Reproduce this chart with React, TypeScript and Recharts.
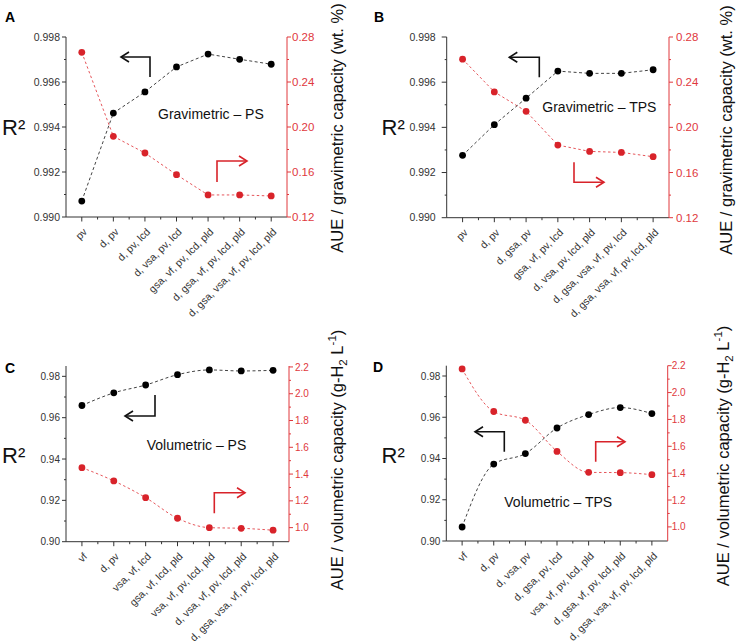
import React from 'react';
import { LineChart, Line, XAxis, YAxis } from 'recharts';

// ---------- data ----------
const catsA = ['pv', 'd, pv', 'd, pv, lcd', 'd, vsa, pv, lcd', 'gsa, vf, pv, lcd, pld', 'd, gsa, vf, pv, lcd, pld', 'd, gsa, vsa, vf, pv, lcd, pld'];
const r2A = [0.99071, 0.99462, 0.99556, 0.99667, 0.99724, 0.99701, 0.99679];
const aueA = [0.2664, 0.1917, 0.1769, 0.1576, 0.1396, 0.1396, 0.1387];

const catsB = ['pv', 'd, pv', 'd, gsa, pv', 'gsa, vf, pv, lcd', 'd, vsa, pv, lcd, pld', 'd, gsa, vsa, vf, pv, lcd', 'd, gsa, vsa, vf, pv, lcd, pld'];
const r2B = [0.99276, 0.99412, 0.99529, 0.99649, 0.99639, 0.99639, 0.99655];
const aueB = [0.2604, 0.2314, 0.2142, 0.1843, 0.1787, 0.1778, 0.174];

const catsC = ['vf', 'd, pv', 'vsa, vf, lcd', 'gsa, vf, lcd, pld', 'vsa, vf, pv, lcd, pld', 'd, vsa, vf, pv, lcd, pld', 'd, gsa, vsa, vf, pv, lcd, pld'];
const r2C = [0.9659, 0.972, 0.9758, 0.9808, 0.9831, 0.9826, 0.9829];
const aueC = [1.448, 1.349, 1.224, 1.07, 1.0, 0.995, 0.981];

const catsD = ['vf', 'd, pv', 'd, vsa, pv', 'd, gsa, pv, lcd', 'vsa, vf, pv, lcd, pld', 'd, gsa, vf, pv, lcd, pld', 'd, gsa, vsa, vf, pv, lcd, pld'];
const r2D = [0.9068, 0.9373, 0.9424, 0.9548, 0.9613, 0.9647, 0.9618];
const aueD = [2.176, 1.859, 1.794, 1.562, 1.406, 1.404, 1.389];

// tick values
const xTicks = [0, 0.5, 1, 1.5, 2, 2.5, 3, 3.5, 4, 4.5, 5, 5.5, 6];
const leftTicksGrav = [0.99, 0.991, 0.992, 0.993, 0.994, 0.995, 0.996, 0.997, 0.998];
const rightTicksGrav = [0.12, 0.14, 0.16, 0.18, 0.2, 0.22, 0.24, 0.26, 0.28];
const leftTicksVol = [0.9, 0.91, 0.92, 0.93, 0.94, 0.95, 0.96, 0.97, 0.98];
const rightTicksVol = [1.0, 1.1, 1.2, 1.3, 1.4, 1.5, 1.6, 1.7, 1.8, 1.9, 2.0, 2.1, 2.2];

// ---------- styles ----------
const FONT = '"Liberation Sans", Arial, Helvetica, sans-serif';
const AXIS = '#333333';
const RED = '#d8232a';
const RED_AXIS = '#e0383d';
const RED_LINE = '#e6565b';

type Cfg = {
  left: number; top: number; width: number; height: number;
  margin: { top: number; right: number; bottom: number; left: number };
  cats: string[]; r2: number[]; aue: number[];
  lDomain: [number, number]; lTicks: number[]; lDec: number; lFont: number; lGap: number; lTick: number;
  rDomain: [number, number]; rTicks: number[]; rDec: number; rFont: number; rGap: number;
  curve: 'linear' | 'monotone';
};

const panels: Cfg[] = [
  {
    left: 0, top: 0, width: 368, height: 320,
    margin: { top: 37, right: 31, bottom: 3, left: 16 },
    cats: catsA, r2: r2A, aue: aueA,
    lDomain: [0.99, 0.998], lTicks: leftTicksGrav, lDec: 3, lFont: 10.5, lGap: 6, lTick: 4,
    rDomain: [0.12, 0.28], rTicks: rightTicksGrav, rDec: 2, rFont: 11.5, rGap: 5,
    curve: 'linear',
  },
  {
    left: 368, top: 0, width: 368, height: 320,
    margin: { top: 37, right: 17, bottom: 2.3, left: 28.7 },
    cats: catsB, r2: r2B, aue: aueB,
    lDomain: [0.99, 0.998], lTicks: leftTicksGrav, lDec: 3, lFont: 10.5, lGap: 11, lTick: 5,
    rDomain: [0.12, 0.28], rTicks: rightTicksGrav, rDec: 2, rFont: 11.5, rGap: 7,
    curve: 'linear',
  },
  {
    left: 0, top: 320, width: 368, height: 323,
    margin: { top: 46, right: 29, bottom: 1.3, left: 16 },
    cats: catsC, r2: r2C, aue: aueC,
    lDomain: [0.9, 0.985], lTicks: leftTicksVol, lDec: 2, lFont: 10, lGap: 6, lTick: 4,
    rDomain: [0.895, 2.207], rTicks: rightTicksVol, rDec: 1, rFont: 10, rGap: 6,
    curve: 'monotone',
  },
  {
    left: 368, top: 320, width: 368, height: 323,
    margin: { top: 45.7, right: 18.3, bottom: 2, left: 28.3 },
    cats: catsD, r2: r2D, aue: aueD,
    lDomain: [0.9, 0.985], lTicks: leftTicksVol, lDec: 2, lFont: 10, lGap: 6, lTick: 4,
    rDomain: [0.895, 2.2], rTicks: rightTicksVol, rDec: 1, rFont: 10, rGap: 4,
    curve: 'monotone',
  },
];

// ---------- ticks ----------
function BottomTick(props: any) {
  const { x, y, payload, cats } = props;
  const v = payload.value;
  const major = Number.isInteger(v);
  const lx = x + 6;
  const ly = y + 15.5;
  return (
    <g>
      <line x1={x} y1={y} x2={x} y2={y + (major ? 4.5 : 2.5)} stroke={AXIS} strokeWidth={1} />
      {major && (
        <text x={lx} y={ly} textAnchor="end" fontSize={10.5} fill="#333" fontFamily={FONT}
          transform={`rotate(-45 ${lx} ${ly})`}>
          {cats[v]}
        </text>
      )}
    </g>
  );
}

function TopTick(props: any) {
  const { x, y } = props;
  return <line x1={x} y1={y} x2={x} y2={y + 3} stroke={AXIS} strokeWidth={1} />;
}

function LeftTick(props: any) {
  const { x, y, payload, index, dec, font, gap, len } = props;
  const major = index % 2 === 0;
  return (
    <g>
      <line x1={x} y1={y} x2={x - (major ? len : 2)} y2={y} stroke={AXIS} strokeWidth={1} />
      {major && (
        <text x={x - gap} y={y} dy="0.36em" textAnchor="end" fontSize={font} fill="#333" fontFamily={FONT}>
          {Number(payload.value).toFixed(dec)}
        </text>
      )}
    </g>
  );
}

function RightTick(props: any) {
  const { x, y, payload, index, dec, font, gap } = props;
  const major = index % 2 === 0;
  return (
    <g>
      <line x1={x} y1={y} x2={x + (major ? 4 : 2)} y2={y} stroke={RED_AXIS} strokeWidth={1} />
      {major && (
        <text x={x + gap} y={y} dy="0.36em" textAnchor="start" fontSize={font} fill={RED_AXIS} fontFamily={FONT}>
          {Number(payload.value).toFixed(dec)}
        </text>
      )}
    </g>
  );
}

function Panel({ cfg }: { cfg: Cfg }) {
  const data = cfg.cats.map((c, i) => ({ idx: i, cat: c, r2: cfg.r2[i], aue: cfg.aue[i] }));
  return (
    <div style={{ position: 'absolute', left: cfg.left, top: cfg.top }}>
      <LineChart width={cfg.width} height={cfg.height} data={data} margin={cfg.margin}>
        <XAxis xAxisId="b" dataKey="idx" type="number" domain={[-0.5, 6.5]} ticks={xTicks} interval={0}
          height={100} tickSize={0} tickMargin={0} tickLine={false} axisLine={{ stroke: AXIS }}
          tick={(p: any) => <BottomTick {...p} cats={cfg.cats} />} />
        <XAxis xAxisId="t" orientation="top" dataKey="idx" type="number" domain={[-0.5, 6.5]} ticks={xTicks}
          interval={0} height={0} tickSize={0} tickMargin={0} tickLine={false} axisLine={{ stroke: AXIS }}
          tick={(p: any) => <TopTick {...p} />} />
        <YAxis yAxisId="l" orientation="left" type="number" domain={cfg.lDomain} ticks={cfg.lTicks} interval={0}
          width={50} tickSize={0} tickMargin={0} tickLine={false} axisLine={{ stroke: AXIS }}
          tick={(p: any) => <LeftTick {...p} dec={cfg.lDec} font={cfg.lFont} gap={cfg.lGap} len={cfg.lTick} />} />
        <YAxis yAxisId="r" orientation="right" type="number" domain={cfg.rDomain} ticks={cfg.rTicks} interval={0}
          width={50} tickSize={0} tickMargin={0} tickLine={false} axisLine={{ stroke: RED_AXIS }}
          tick={(p: any) => <RightTick {...p} dec={cfg.rDec} font={cfg.rFont} gap={cfg.rGap} />} />
        <Line xAxisId="b" yAxisId="r" dataKey="aue" type={cfg.curve} stroke={RED_LINE} strokeWidth={1}
          strokeDasharray="2.5 2.5" dot={{ r: 3.4, fill: RED, stroke: RED, strokeWidth: 0 }} activeDot={false}
          isAnimationActive={false} />
        <Line xAxisId="b" yAxisId="l" dataKey="r2" type={cfg.curve} stroke="#444" strokeWidth={1}
          strokeDasharray="3 2.5" dot={{ r: 3.4, fill: '#000', stroke: '#000', strokeWidth: 0 }} activeDot={false}
          isAnimationActive={false} />
      </LineChart>
    </div>
  );
}

// ---------- annotations ----------
function ArrowLeft({ d, tipX, tipY, color }: { d: string; tipX: number; tipY: number; color: string }) {
  return (
    <g fill="none" stroke={color} strokeWidth={1.6}>
      <path d={d} />
      <path d={`M${tipX + 8},${tipY - 5} L${tipX},${tipY} L${tipX + 8},${tipY + 5}`} />
    </g>
  );
}
function ArrowRight({ d, tipX, tipY, color }: { d: string; tipX: number; tipY: number; color: string }) {
  return (
    <g fill="none" stroke={color} strokeWidth={1.6}>
      <path d={d} />
      <path d={`M${tipX - 8},${tipY - 5} L${tipX},${tipY} L${tipX - 8},${tipY + 5}`} />
    </g>
  );
}

function RightTitleGrav({ x, y }: { x: number; y: number }) {
  return (
    <text x={x} y={y} textAnchor="middle" fontSize={16.5} fill="#111" transform={`rotate(-90 ${x} ${y})`}>
      AUE / gravimetric capacity (wt. %)
    </text>
  );
}
function RightTitleVol({ x, y }: { x: number; y: number }) {
  return (
    <text x={x} y={y} textAnchor="middle" fontSize={16.5} fill="#111" transform={`rotate(-90 ${x} ${y})`}>
      AUE / volumetric capacity (g-H
      <tspan fontSize={11.5} dy={4}>2</tspan>
      <tspan dy={-4}> L</tspan>
      <tspan fontSize={11.5} dy={-7}>-1</tspan>
      <tspan dy={7}>)</tspan>
    </text>
  );
}

export default function App() {
  return (
    <div style={{ position: 'absolute', left: 0, top: 0, width: 736, height: 643, background: '#fff', overflow: 'hidden', fontFamily: FONT }}>
      {panels.map((p, i) => (
        <Panel key={i} cfg={p} />
      ))}
      <svg width={736} height={643} style={{ position: 'absolute', left: 0, top: 0, pointerEvents: 'none' }} fontFamily={FONT}>
        {/* panel letters */}
        <text x={5} y={22} fontSize={14} fontWeight="bold" fill="#000">A</text>
        <text x={374} y={22} fontSize={14} fontWeight="bold" fill="#000">B</text>
        <text x={5} y={373} fontSize={14} fontWeight="bold" fill="#000">C</text>
        <text x={373} y={372} fontSize={14} fontWeight="bold" fill="#000">D</text>

        {/* left axis titles */}
        <text x={2} y={135} fontSize={22} fill="#111">R²</text>
        <text x={381.5} y={135} fontSize={22} fill="#111">R²</text>
        <text x={2} y={463} fontSize={22} fill="#111">R²</text>
        <text x={381.5} y={463} fontSize={22} fill="#111">R²</text>

        {/* right axis titles */}
        <RightTitleGrav x={343} y={128} />
        <RightTitleGrav x={731.5} y={130} />
        <RightTitleVol x={343} y={460} />
        <RightTitleVol x={728.5} y={456} />

        {/* annotations */}
        <text x={158} y={119.3} fontSize={14} fill="#111">Gravimetric – PS</text>
        <text x={542.3} y={111.5} fontSize={14} fill="#111">Gravimetric – TPS</text>
        <text x={146.7} y={450} fontSize={14} fill="#111">Volumetric – PS</text>
        <text x={504.3} y={507} fontSize={14} fill="#111">Volumetric – TPS</text>

        {/* arrows */}
        <ArrowLeft d="M150,77 V57 H121" tipX={121} tipY={57} color="#111" />
        <ArrowRight d="M217,182 V161 H247" tipX={247} tipY={161} color={RED} />
        <ArrowLeft d="M539.3,77.3 V57.3 H509.3" tipX={509.3} tipY={57.3} color="#111" />
        <ArrowRight d="M574,162.3 V182.3 H604" tipX={604} tipY={182.3} color={RED} />
        <ArrowLeft d="M155,395 V416 H125" tipX={125} tipY={416} color="#111" />
        <ArrowRight d="M214.3,513.3 V492.7 H245" tipX={245} tipY={492.7} color={RED} />
        <ArrowLeft d="M504.3,451.7 V431.7 H475" tipX={475} tipY={431.7} color="#111" />
        <ArrowRight d="M595.7,461.7 V441.7 H625" tipX={625} tipY={441.7} color={RED} />
      </svg>
    </div>
  );
}
